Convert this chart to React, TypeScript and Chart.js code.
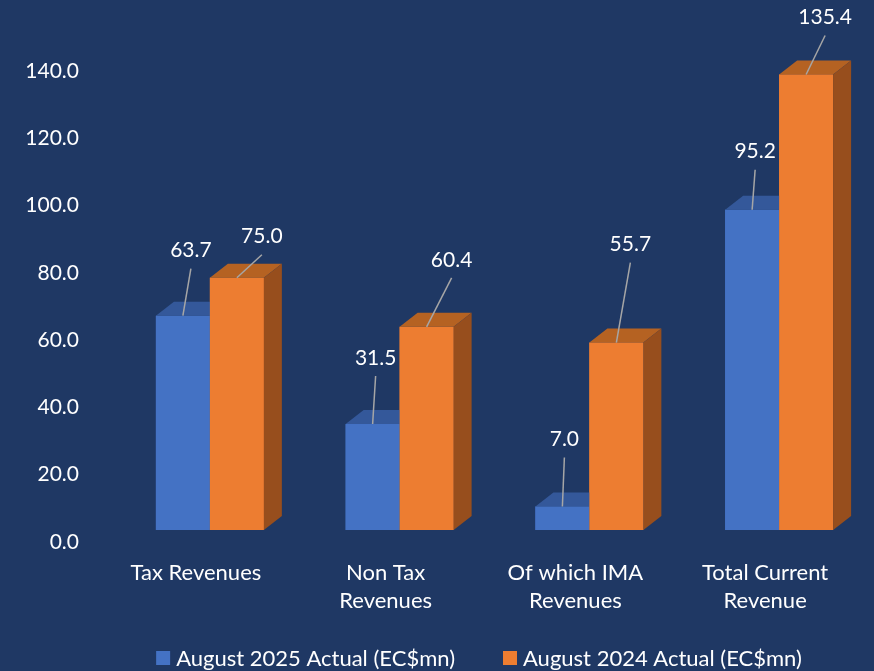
import React, { useEffect, useRef } from "react";
import { Chart, registerables } from "chart.js";

Chart.register(...registerables);

// ---- data ----
const categories: (string | string[])[] = [
  "Tax Revenues",
  ["Non Tax", "Revenues"],
  ["Of which IMA", "Revenues"],
  ["Total Current", "Revenue"],
];
const seriesNames = ["August 2025 Actual (EC$mn)", "August 2024 Actual (EC$mn)"];
const aug2025 = [63.7, 31.5, 7.0, 95.2];
const aug2024 = [75.0, 60.4, 55.7, 135.4];
const yTickValues = [0, 20, 40, 60, 80, 100, 120, 140];

// ---- styling / layout ----
const FONT = "Lato, 'Open Sans', sans-serif";
const BG = "#1F3864";
const FRONT = ["#4472C4", "#ED7D31"];
const TOP = ["#34589A", "#B56222"];
const SIDE = ["#2F528F", "#974E1D"];
const DEPTH_X = 18;
const DEPTH_Y = -14;
// data-label placement (label centre relative to bar front-top centre)
const labelShift = [
  [[8, -65], [3, -66], [2, -67], [3, -58]],
  [[25, -41], [25, -67], [14, -98], [19, -57]],
];

const threeDPlugin = {
  id: "threeD",
  afterDatasetsDraw(chart: any) {
    const ctx = chart.ctx as CanvasRenderingContext2D;
    const n = chart.data.labels.length;
    ctx.save();
    for (let i = 0; i < n; i++) {
      for (let d = 0; d < chart.data.datasets.length; d++) {
        const el = chart.getDatasetMeta(d).data[i];
        const { x, y, base, width } = el.getProps(["x", "y", "base", "width"], true);
        const l = x - width / 2;
        const r = x + width / 2;
        // front
        ctx.fillStyle = FRONT[d];
        ctx.fillRect(l, y, width, base - y);
        // top
        ctx.beginPath();
        ctx.moveTo(l, y);
        ctx.lineTo(r, y);
        ctx.lineTo(r + DEPTH_X, y + DEPTH_Y);
        ctx.lineTo(l + DEPTH_X, y + DEPTH_Y);
        ctx.closePath();
        ctx.fillStyle = TOP[d];
        ctx.fill();
        // side
        ctx.beginPath();
        ctx.moveTo(r, y);
        ctx.lineTo(r + DEPTH_X, y + DEPTH_Y);
        ctx.lineTo(r + DEPTH_X, base + DEPTH_Y);
        ctx.lineTo(r, base);
        ctx.closePath();
        ctx.fillStyle = SIDE[d];
        ctx.fill();
      }
    }
    // data labels with leader lines
    ctx.font = `21px ${FONT}`;
    ctx.textAlign = "center";
    ctx.textBaseline = "middle";
    for (let d = 0; d < chart.data.datasets.length; d++) {
      const meta = chart.getDatasetMeta(d);
      meta.data.forEach((el: any, i: number) => {
        const { x, y } = el.getProps(["x", "y"], true);
        const [ox, oy] = labelShift[d][i];
        const lx = x + ox;
        const ly = y + oy;
        ctx.strokeStyle = "#A6A6A6";
        ctx.lineWidth = 1.5;
        ctx.beginPath();
        ctx.moveTo(lx, ly + 18);
        ctx.lineTo(x, y);
        ctx.stroke();
        ctx.fillStyle = "#FFFFFF";
        const v = chart.data.datasets[d].data[i] as number;
        ctx.fillText(v.toFixed(1), lx, ly);
      });
    }
    ctx.restore();
  },
  afterDraw(chart: any) {
    // legend
    const ctx = chart.ctx as CanvasRenderingContext2D;
    ctx.save();
    ctx.font = `22px ${FONT}`;
    ctx.textBaseline = "middle";
    ctx.textAlign = "left";
    const box = 14;
    const gapText = 6;
    const gapItem = 48;
    const ds = chart.data.datasets;
    const widths = ds.map((s: any) => box + gapText + ctx.measureText(s.label).width);
    const total = widths.reduce((a: number, b: number) => a + b, 0) + gapItem * (ds.length - 1);
    let cx = 479 - total / 2;
    const cy = 658;
    ds.forEach((s: any, k: number) => {
      ctx.fillStyle = s.backgroundColor;
      ctx.fillRect(cx, cy - box / 2, box, box);
      ctx.fillStyle = "#FFFFFF";
      ctx.fillText(s.label, cx + box + gapText, cy + 1);
      cx += widths[k] + gapItem;
    });
    ctx.restore();
  },
};

export default function App() {
  const ref = useRef<HTMLCanvasElement | null>(null);
  useEffect(() => {
    document.body.style.margin = "0";
    document.body.style.background = BG;
    const chart = new Chart(ref.current!, {
      type: "bar",
      data: {
        labels: categories,
        datasets: [
          { label: seriesNames[0], data: aug2025, backgroundColor: FRONT[0], borderWidth: 0 },
          { label: seriesNames[1], data: aug2024, backgroundColor: FRONT[1], borderWidth: 0 },
        ],
      },
      options: {
        animation: false,
        responsive: true,
        maintainAspectRatio: false,
        layout: { padding: { top: 59, right: 0, bottom: 0, left: 0 } },
        datasets: { bar: { categoryPercentage: 0.569, barPercentage: 1, clip: false as any } },
        plugins: {
          legend: { display: false },
          tooltip: { enabled: false },
        },
        scales: {
          x: {
            grid: { display: false, drawTicks: false },
            border: { display: false },
            ticks: {
              color: "#FFFFFF",
              font: { family: FONT, size: 22, lineHeight: "28px" },
              labelOffset: -14,
              padding: 29,
              maxRotation: 0,
              autoSkip: false,
            },
            afterFit: (s: any) => {
              s.height = 141;
            },
          },
          y: {
            min: 0,
            max: 140,
            grid: { display: false, drawTicks: false },
            border: { display: false },
            afterBuildTicks: (s: any) => {
              s.ticks = yTickValues.map((v) => ({ value: v }));
            },
            ticks: {
              color: "#FFFFFF",
              font: { family: FONT, size: 21 },
              padding: 36,
              labelOffset: 12,
              callback: (v: any) => Number(v).toFixed(1),
            },
            afterFit: (s: any) => {
              s.width = 115;
            },
          },
        },
      },
      plugins: [threeDPlugin],
    });
    return () => chart.destroy();
  }, []);
  return (
    <div style={{ position: "fixed", left: 0, top: 0, width: 874, height: 671, background: BG }}>
      <canvas ref={ref} />
    </div>
  );
}
